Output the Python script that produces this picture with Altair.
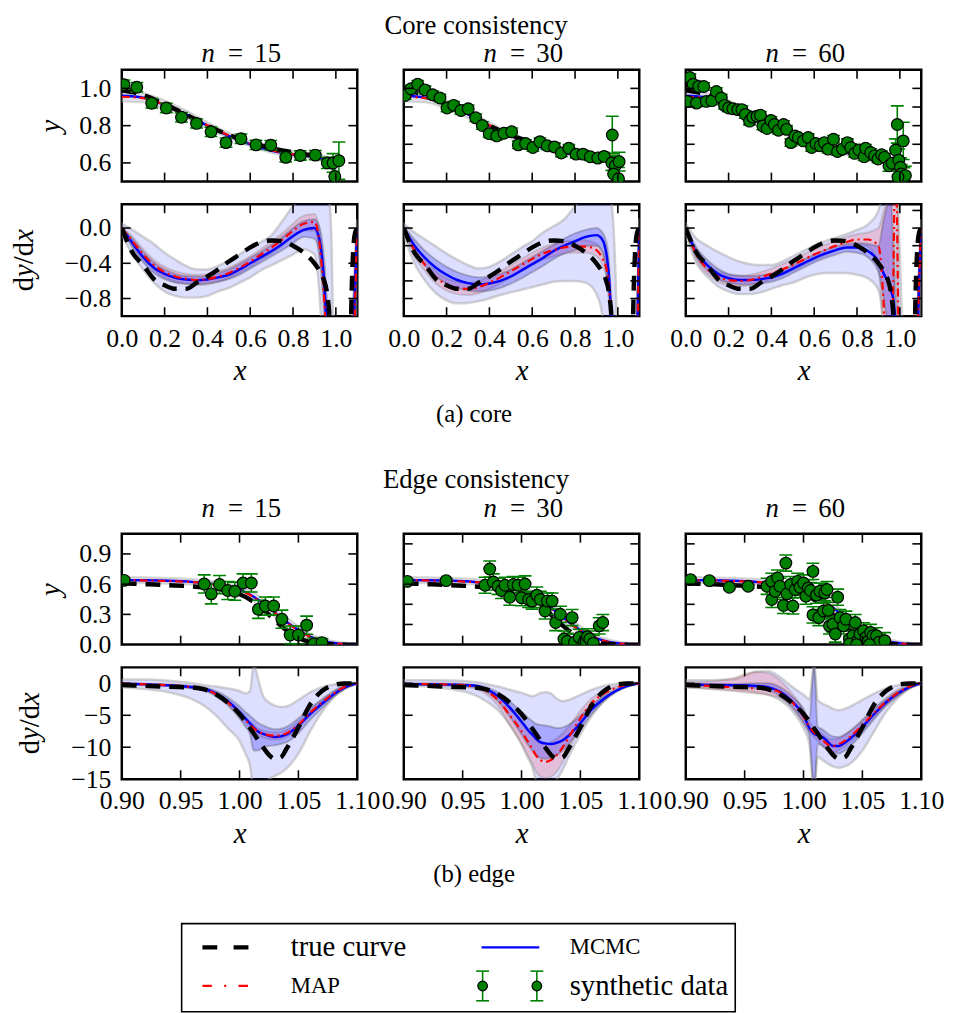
import altair as alt
import pandas as pd

FONT = "Liberation Serif"
GREEN = "#008000"

# ---------------- text ----------------
TITLE_CORE = "Core consistency"
TITLE_EDGE = "Edge consistency"
CAPTION_CORE = "(a) core"
CAPTION_EDGE = "(b) edge"
N_VALUES = [15, 30, 60]
LEGEND_LABELS = ["true curve", "MCMC", "MAP", "synthetic data"]
DYDX_PARTS = [("d", "normal", 0.5), ("y", "italic", 0.444), ("/", "normal", 0.278), ("d", "normal", 0.5),
              ("x", "italic", 0.444)]

# ---------------- axes ----------------
CORE_X_DOMAIN = [0.0, 1.1]
CORE_Y_DOMAIN = [0.5, 1.1]
CORE_D_DOMAIN = [-1.0, 0.27]
EDGE_X_DOMAIN = [0.9, 1.1]
EDGE_Y_DOMAIN = [0.0, 1.1]
EDGE_D_DOMAIN = [-15.0, 2.5]

CORE_X_LABELS = [0.0, 0.2, 0.4, 0.6, 0.8, 1.0]
CORE_X_INNER = [0.2, 0.4, 0.6, 0.8, 1.0]
EDGE_X_LABELS = [0.90, 0.95, 1.00, 1.05, 1.10]
EDGE_X_INNER = [0.95, 1.00, 1.05]
CORE_Y_LABELS = [0.6, 0.8, 1.0]
CORE_Y_TICKS = {15: [0.6, 0.8, 1.0], 30: [0.6, 0.7, 0.8, 0.9, 1.0], 60: [0.6, 0.7, 0.8, 0.9, 1.0]}
CORE_D_LABELS = [0.0, -0.4, -0.8]
CORE_D_TICKS = {15: [0.0, -0.4, -0.8], 30: [0.2, 0.0, -0.2, -0.4, -0.6, -0.8], 60: [0.2, 0.0, -0.2, -0.4, -0.6, -0.8]}
EDGE_Y_LABELS = [0.0, 0.3, 0.6, 0.9]
EDGE_Y_TICKS = {15: [0.3, 0.6, 0.9], 30: [0.2, 0.4, 0.6, 0.8, 1.0], 60: [0.2, 0.4, 0.6, 0.8, 1.0]}
EDGE_D_LABELS = [0, -5, -10, -15]
EDGE_D_TICKS = [0, -5, -10]

# ---------------- core experiment: y(x) ----------------
CORE_TRUE_Y_X = [0, 0.1, 0.2, 0.3, 0.4, 0.5, 0.6, 0.7, 0.8, 0.9, 0.95, 0.97, 0.98, 0.99, 1.0, 1.02, 1.05, 1.1]
CORE_TRUE_Y = [0.99, 0.965, 0.915, 0.86, 0.80, 0.75, 0.71, 0.68, 0.657, 0.635, 0.615, 0.60, 0.585, 0.565, 0.53, 0.42, 0.2, 0.0]
CORE_FIT_Y_X = [0, 0.1, 0.2, 0.3, 0.4, 0.5, 0.6, 0.7, 0.8, 0.9, 0.95, 0.97, 0.98, 0.99, 1.0, 1.02, 1.05, 1.1]
CORE_MCMC_Y = [0.96, 0.95, 0.91, 0.86, 0.80, 0.745, 0.70, 0.665, 0.645, 0.632, 0.618, 0.60, 0.585, 0.56, 0.52, 0.42, 0.2, 0.0]
CORE_MAP_Y = [0.955, 0.948, 0.912, 0.862, 0.802, 0.748, 0.703, 0.668, 0.646, 0.634, 0.62, 0.603, 0.588, 0.563, 0.525, 0.42, 0.2, 0.0]
CORE_BAND_Y_LO = [0.93, 0.925, 0.89, 0.84, 0.785, 0.732, 0.688, 0.653, 0.633, 0.618, 0.598, 0.575, 0.555, 0.525, 0.48, 0.36, 0.15, 0.0]
CORE_BAND_Y_HI = [0.99, 0.975, 0.935, 0.882, 0.818, 0.762, 0.715, 0.68, 0.66, 0.648, 0.638, 0.625, 0.612, 0.595, 0.565, 0.48, 0.26, 0.02]

CORE_PTS = {
    15: dict(
        x=[0.01, 0.07, 0.14, 0.208, 0.279, 0.349, 0.417, 0.487, 0.557, 0.627, 0.696, 0.766, 0.834, 0.904,
           0.96, 0.987, 1.014, 0.995],
        y=[1.02, 1.006, 0.92, 0.895, 0.845, 0.812, 0.767, 0.709, 0.73, 0.697, 0.695, 0.63, 0.64, 0.642,
           0.60, 0.60, 0.612, 0.527],
        e=[0.025, 0.025, 0.025, 0.025, 0.025, 0.025, 0.025, 0.025, 0.025, 0.025, 0.025, 0.025, 0.025, 0.025,
           0.03, 0.05, 0.10, 0.08]),
    30: dict(
        x=[0.006, 0.034, 0.065, 0.099, 0.135, 0.169, 0.202, 0.233, 0.267, 0.301, 0.336, 0.367, 0.399, 0.434,
           0.468, 0.504, 0.535, 0.569, 0.603, 0.636, 0.670, 0.704, 0.736, 0.771, 0.805, 0.837, 0.871, 0.906,
           0.936, 0.974, 0.972, 0.988, 1.006, 0.980, 1.003],
        y=[0.962, 0.998, 1.022, 0.992, 0.966, 0.948, 0.895, 0.909, 0.881, 0.891, 0.842, 0.801, 0.757, 0.745,
           0.759, 0.767, 0.697, 0.704, 0.683, 0.714, 0.692, 0.686, 0.653, 0.679, 0.647, 0.647, 0.633, 0.626,
           0.635, 0.750, 0.600, 0.585, 0.607, 0.541, 0.515],
        e=[0.02, 0.02, 0.02, 0.02, 0.02, 0.02, 0.02, 0.02, 0.02, 0.02, 0.02, 0.02, 0.02, 0.02,
           0.02, 0.02, 0.02, 0.02, 0.02, 0.02, 0.02, 0.02, 0.02, 0.02, 0.02, 0.02, 0.02, 0.02,
           0.02, 0.10, 0.04, 0.05, 0.05, 0.06, 0.06]),
    60: dict(
        x=[0.019, 0.034, 0.060, 0.084, 0.008, 0.050, 0.096, 0.122, 0.143, 0.166, 0.181, 0.200, 0.220, 0.243,
           0.262, 0.278, 0.298, 0.313, 0.333, 0.349, 0.360, 0.380, 0.398, 0.414, 0.433, 0.457, 0.471, 0.491,
           0.510, 0.526, 0.549, 0.572, 0.588, 0.608, 0.628, 0.647, 0.665, 0.690, 0.709, 0.732, 0.755, 0.771,
           0.789, 0.809, 0.833, 0.840, 0.864, 0.882, 0.898, 0.915, 0.929, 0.949, 0.964, 0.988, 1.016, 0.980,
           0.995, 1.003, 1.006, 1.019, 1.026, 0.991],
        y=[1.058, 1.022, 1.010, 1.010, 0.930, 0.921, 0.930, 0.934, 0.983, 0.948, 0.909, 0.895, 0.891, 0.886,
           0.886, 0.860, 0.824, 0.845, 0.851, 0.856, 0.798, 0.785, 0.828, 0.806, 0.775, 0.806, 0.780, 0.709,
           0.745, 0.736, 0.718, 0.736, 0.683, 0.704, 0.692, 0.709, 0.674, 0.727, 0.661, 0.674, 0.709, 0.683,
           0.651, 0.669, 0.633, 0.679, 0.656, 0.638, 0.621, 0.644, 0.630, 0.585, 0.598, 0.806, 0.718, 0.669,
           0.615, 0.577, 0.541, 0.524, 0.532, 0.524],
        e=[0.02, 0.02, 0.02, 0.02, 0.02, 0.02, 0.02, 0.02, 0.02, 0.02, 0.02, 0.02, 0.02, 0.02,
           0.02, 0.02, 0.02, 0.02, 0.02, 0.02, 0.02, 0.02, 0.02, 0.02, 0.02, 0.02, 0.02, 0.02,
           0.02, 0.02, 0.02, 0.02, 0.02, 0.02, 0.02, 0.02, 0.02, 0.02, 0.02, 0.02, 0.02, 0.02,
           0.02, 0.02, 0.02, 0.02, 0.02, 0.02, 0.02, 0.02, 0.02, 0.03, 0.03, 0.10, 0.10, 0.06,
           0.06, 0.05, 0.05, 0.05, 0.05, 0.05]),
}

# ---------------- core experiment: dy/dx ----------------
CORE_TRUE_D_X = [0, 0.05, 0.1, 0.15, 0.2, 0.25, 0.3, 0.35, 0.4, 0.45, 0.5, 0.55, 0.6, 0.65, 0.7, 0.75, 0.8,
                 0.85, 0.9, 0.92, 0.94, 0.96, 0.97, 0.98, 0.99, 1.0, 1.02, 1.04, 1.06, 1.07, 1.08, 1.09, 1.1]
CORE_TRUE_D = [0.0, -0.28, -0.42, -0.58, -0.65, -0.69, -0.69, -0.62, -0.55, -0.47, -0.38, -0.30, -0.22,
               -0.16, -0.14, -0.15, -0.20, -0.28, -0.40, -0.47, -0.56, -0.76, -1.0, -1.6, -2.8, -4.8, -10.0,
               -10.2, -3.5, -1.2, -0.3, -0.05, 0.0]

CORE_GRID = [0.0, 0.05, 0.1, 0.15, 0.2, 0.25, 0.3, 0.35, 0.4, 0.45, 0.5, 0.55, 0.6, 0.65, 0.7, 0.75, 0.8,
             0.85, 0.9, 0.925, 0.95, 0.96, 0.97, 0.98, 0.99, 1.0, 1.025, 1.05, 1.075, 1.09, 1.1]

CORE_D = {
    15: dict(
        mcmc=[0.0, -0.17, -0.33, -0.45, -0.52, -0.565, -0.585, -0.593, -0.585, -0.56, -0.53, -0.47, -0.40, -0.33, -0.26, -0.18, -0.09, -0.02, 0.0, -0.15, -0.8, -1.3, -1.8, -2.2, -2.6, -2.9, -3.4, -3.2, -2.0, -0.6, 0.0],
        map=[0.0, -0.15, -0.30, -0.42, -0.50, -0.55, -0.575, -0.59, -0.58, -0.55, -0.51, -0.45, -0.38, -0.30, -0.22, -0.13, -0.03, 0.05, 0.07, -0.2, -1.0, -1.5, -2.0, -2.4, -2.8, -3.0, -3.4, -3.2, -2.2, -0.8, 0.0],
        out_hi=[0.05, -0.02, -0.10, -0.18, -0.28, -0.36, -0.43, -0.47, -0.47, -0.43, -0.37, -0.30, -0.22, -0.16, -0.08, 0.08, 0.25, 0.40, 0.5, 0.5, 0.45, 0.4, 0.3, -0.2, -1.5, -2.5, -3.0, -2.5, -1.2, -0.3, 0.1],
        out_lo=[-0.08, -0.30, -0.47, -0.62, -0.72, -0.77, -0.79, -0.79, -0.77, -0.72, -0.68, -0.62, -0.56, -0.48, -0.42, -0.36, -0.30, -0.24, -0.30, -0.8, -2.0, -2.8, -3.5, -4.2, -4.8, -5.0, -5.0, -5.0, -4.0, -2.0, -0.2],
        in_hi=[0.0, -0.12, -0.27, -0.39, -0.47, -0.52, -0.545, -0.55, -0.54, -0.51, -0.47, -0.41, -0.34, -0.27, -0.19, -0.10, 0.0, 0.08, 0.1, 0.0, -0.5, -0.9, -1.4, -1.8, -2.3, -2.6, -3.1, -3.0, -1.7, -0.4, 0.05],
        in_lo=[-0.02, -0.22, -0.39, -0.51, -0.58, -0.62, -0.635, -0.64, -0.63, -0.61, -0.58, -0.53, -0.46, -0.39, -0.32, -0.25, -0.17, -0.10, -0.12, -0.35, -1.1, -1.6, -2.1, -2.6, -2.9, -3.2, -3.7, -3.4, -2.3, -0.9, -0.05],
        pk_hi=[0.01, -0.10, -0.24, -0.36, -0.44, -0.49, -0.52, -0.53, -0.52, -0.49, -0.45, -0.39, -0.32, -0.24, -0.15, -0.06, 0.05, 0.14, 0.16, -0.05, -0.8, -1.3, -1.8, -2.2, -2.6, -2.9, -3.2, -3.0, -2.0, -0.6, 0.02],
        pk_lo=[-0.01, -0.2, -0.36, -0.48, -0.56, -0.61, -0.63, -0.645, -0.64, -0.61, -0.57, -0.51, -0.44, -0.36, -0.29, -0.2, -0.1, -0.03, -0.03, -0.35, -1.2, -1.7, -2.2, -2.6, -3.0, -3.2, -3.6, -3.4, -2.4, -1.0, -0.02]),
    30: dict(
        mcmc=[0.0, -0.2, -0.34, -0.45, -0.53, -0.59, -0.625, -0.64, -0.63, -0.60, -0.55, -0.48, -0.41, -0.34, -0.26, -0.20, -0.15, -0.10, -0.08, -0.12, -0.35, -0.6, -1.1, -1.8, -2.4, -2.8, -3.5, -3.0, -2.2, -1.3, 0.0],
        map=[0.0, -0.25, -0.42, -0.56, -0.64, -0.68, -0.69, -0.67, -0.62, -0.56, -0.49, -0.42, -0.35, -0.29, -0.25, -0.22, -0.21, -0.21, -0.25, -0.33, -0.5, -0.7, -1.1, -1.8, -2.4, -2.8, -3.5, -3.0, -2.2, -1.4, 0.0],
        out_hi=[0.05, -0.05, -0.13, -0.21, -0.29, -0.36, -0.42, -0.46, -0.44, -0.38, -0.30, -0.22, -0.15, -0.05, 0.02, 0.10, 0.25, 0.4, 0.5, 0.5, 0.5, 0.45, 0.3, 0.0, -0.6, -1.5, -2.5, -2.5, -1.8, -0.8, 0.1],
        out_lo=[-0.08, -0.4, -0.6, -0.74, -0.82, -0.855, -0.85, -0.83, -0.80, -0.76, -0.73, -0.70, -0.67, -0.64, -0.61, -0.60, -0.60, -0.62, -0.75, -0.95, -1.5, -1.9, -2.4, -3.0, -4.0, -5.0, -5.0, -5.0, -4.0, -2.5, -0.2],
        in_hi=[0.02, -0.13, -0.26, -0.36, -0.44, -0.50, -0.54, -0.56, -0.55, -0.52, -0.47, -0.40, -0.33, -0.26, -0.19, -0.12, -0.06, -0.02, 0.0, -0.04, -0.2, -0.45, -0.9, -1.5, -2.1, -2.5, -3.2, -2.8, -1.9, -1.0, 0.05],
        in_lo=[-0.02, -0.27, -0.43, -0.55, -0.63, -0.68, -0.71, -0.72, -0.71, -0.68, -0.63, -0.57, -0.50, -0.43, -0.35, -0.29, -0.25, -0.20, -0.2, -0.25, -0.6, -0.85, -1.4, -2.1, -2.7, -3.1, -3.8, -3.2, -2.5, -1.6, -0.05],
        pk_hi=[0.02, -0.18, -0.35, -0.49, -0.57, -0.61, -0.62, -0.6, -0.55, -0.49, -0.42, -0.35, -0.28, -0.22, -0.18, -0.15, -0.14, -0.14, -0.18, -0.26, -0.42, -0.6, -0.95, -1.6, -2.2, -2.6, -3.3, -2.8, -2.0, -1.1, 0.02],
        pk_lo=[-0.02, -0.32, -0.49, -0.63, -0.71, -0.75, -0.76, -0.74, -0.69, -0.63, -0.56, -0.49, -0.42, -0.36, -0.32, -0.29, -0.28, -0.28, -0.32, -0.4, -0.6, -0.8, -1.3, -2.0, -2.6, -3.0, -3.7, -3.2, -2.4, -1.7, -0.02]),
    60: dict(
        mcmc=[0.0, -0.28, -0.42, -0.52, -0.57, -0.59, -0.59, -0.58, -0.56, -0.52, -0.46, -0.40, -0.34, -0.29, -0.25, -0.22, -0.22, -0.26, -0.38, -0.52, -0.64, -0.72, -0.82, -1.1, -1.8, -2.5, -3.5, -3.0, -2.0, -0.6, 0.0],
        map=[0.0, -0.3, -0.46, -0.55, -0.59, -0.6, -0.59, -0.56, -0.52, -0.47, -0.42, -0.36, -0.30, -0.25, -0.20, -0.16, -0.13, -0.13, -0.2, -0.9, -2.5, -2.0, -0.5, 1.0, -0.5, -3.0, -3.5, -3.0, -2.0, -0.6, 0.0],
        out_hi=[0.05, -0.12, -0.2, -0.27, -0.33, -0.38, -0.41, -0.42, -0.42, -0.38, -0.32, -0.26, -0.20, -0.15, -0.11, -0.07, -0.02, 0.04, 0.2, 0.4, 0.5, 0.5, 0.5, 0.5, 0.3, -0.3, -2.0, -2.0, -1.5, -0.5, 0.1],
        out_lo=[-0.08, -0.4, -0.55, -0.66, -0.72, -0.75, -0.75, -0.73, -0.69, -0.65, -0.62, -0.57, -0.53, -0.51, -0.51, -0.51, -0.53, -0.57, -0.7, -1.2, -2.5, -3.0, -3.5, -4.0, -4.5, -5.0, -5.0, -5.0, -4.0, -2.0, -0.2],
        in_hi=[0.02, -0.22, -0.36, -0.46, -0.52, -0.54, -0.545, -0.535, -0.515, -0.48, -0.42, -0.36, -0.30, -0.25, -0.21, -0.18, -0.17, -0.18, -0.2, 0.1, 0.3, 0.3, -0.3, -0.8, -1.4, -2.2, -3.2, -2.7, -1.7, -0.4, 0.05],
        in_lo=[-0.02, -0.33, -0.48, -0.58, -0.62, -0.64, -0.64, -0.63, -0.61, -0.57, -0.51, -0.45, -0.39, -0.34, -0.30, -0.27, -0.28, -0.33, -0.5, -0.8, -1.2, -1.3, -1.4, -1.6, -2.2, -2.8, -3.8, -3.3, -2.3, -0.8, -0.05],
        pk_hi=[0.02, -0.24, -0.4, -0.49, -0.53, -0.54, -0.53, -0.5, -0.46, -0.41, -0.36, -0.30, -0.24, -0.19, -0.14, -0.10, -0.07, -0.05, 0.0, 0.2, 0.4, 0.5, 0.6, 1.5, 0.5, -2.5, -3.2, -2.7, -1.7, -0.4, 0.02],
        pk_lo=[-0.02, -0.36, -0.52, -0.61, -0.65, -0.66, -0.65, -0.62, -0.58, -0.53, -0.48, -0.42, -0.36, -0.31, -0.26, -0.22, -0.19, -0.21, -0.45, -1.4, -3.0, -2.8, -1.2, 0.0, -2.0, -3.5, -3.8, -3.3, -2.3, -0.8, -0.02]),
}

# ---------------- edge experiment: y(x) ----------------
EDGE_TRUE_Y_X = [0.9, 0.92, 0.94, 0.96, 0.97, 0.98, 0.99, 1.0, 1.01, 1.02, 1.03, 1.04, 1.05, 1.06, 1.07, 1.08, 1.09, 1.1]
EDGE_TRUE_Y = [0.61, 0.60, 0.59, 0.578, 0.568, 0.555, 0.535, 0.50, 0.44, 0.35, 0.24, 0.14, 0.065, 0.025, 0.008, 0.002, 0.0, 0.0]
EDGE_FIT_Y_X = [0.9, 0.92, 0.94, 0.96, 0.97, 0.98, 0.99, 1.0, 1.01, 1.02, 1.03, 1.04, 1.05, 1.06, 1.07, 1.08, 1.09, 1.1]
EDGE_MCMC_Y = [0.64, 0.638, 0.633, 0.622, 0.612, 0.598, 0.578, 0.545, 0.49, 0.41, 0.32, 0.225, 0.145, 0.08, 0.04, 0.015, 0.005, 0.0]
EDGE_MAP_Y = [0.638, 0.636, 0.631, 0.62, 0.61, 0.596, 0.575, 0.54, 0.485, 0.405, 0.315, 0.22, 0.14, 0.078, 0.038, 0.014, 0.004, 0.0]
EDGE_BAND_Y_LO = [0.61, 0.61, 0.605, 0.595, 0.585, 0.57, 0.545, 0.505, 0.445, 0.365, 0.275, 0.185, 0.11, 0.055, 0.02, 0.0, -0.01, -0.01]
EDGE_BAND_Y_HI = [0.67, 0.668, 0.662, 0.652, 0.642, 0.628, 0.61, 0.58, 0.53, 0.455, 0.365, 0.27, 0.185, 0.11, 0.065, 0.035, 0.02, 0.01]

EDGE_PTS = {
    15: dict(
        x=[0.902, 0.970, 0.976, 0.983, 0.990, 0.996, 1.003, 1.010, 1.016, 1.022, 1.029, 1.036, 1.043, 1.050,
           1.057, 1.063, 1.070],
        y=[0.638, 0.602, 0.504, 0.596, 0.537, 0.530, 0.612, 0.612, 0.350, 0.383, 0.383, 0.252, 0.095, 0.095,
           0.193, 0.006, 0.02],
        e=[0.02, 0.09, 0.10, 0.09, 0.09, 0.09, 0.09, 0.09, 0.09, 0.09, 0.09, 0.09, 0.09, 0.09, 0.09, 0.06, 0.04]),
    30: dict(
        x=[0.903, 0.936, 0.973, 0.969, 0.976, 0.980, 0.983, 0.986, 0.990, 0.993, 0.997, 1.003, 1.000, 1.006,
           1.009, 1.013, 1.016, 1.020, 1.022, 1.026, 1.029, 1.033, 1.036, 1.039, 1.043, 1.045, 1.049, 1.053,
           1.056, 1.058, 1.061, 1.066, 1.069],
        y=[0.628, 0.635, 0.750, 0.589, 0.622, 0.579, 0.537, 0.589, 0.471, 0.596, 0.589, 0.602, 0.465, 0.448,
           0.432, 0.491, 0.448, 0.334, 0.432, 0.432, 0.219, 0.301, 0.055, 0.033, 0.268, 0.023, 0.072, 0.023,
           0.078, 0.055, 0.013, 0.186, 0.219],
        e=[0.02, 0.02, 0.08, 0.08, 0.08, 0.08, 0.08, 0.08, 0.08, 0.08, 0.08, 0.08, 0.08, 0.08,
           0.08, 0.08, 0.08, 0.08, 0.08, 0.08, 0.08, 0.08, 0.08, 0.08, 0.08, 0.08, 0.08, 0.08,
           0.08, 0.08, 0.08, 0.08, 0.08]),
    60: dict(
        x=[0.904, 0.920, 0.937, 0.953, 0.969, 0.973, 0.978, 0.973, 0.976, 0.980, 0.985, 0.983, 0.986, 0.989,
           0.991, 0.993, 0.995, 0.997, 1.000, 1.002, 1.004, 1.006, 1.008, 1.011, 1.014, 1.018, 1.020, 1.029,
           1.008, 1.013, 1.017, 1.021, 1.022, 1.025, 1.027, 1.031, 1.034, 1.036, 1.039, 1.042, 1.044, 1.046,
           1.048, 1.051, 1.053, 1.055, 1.057, 1.059, 1.062, 1.064, 1.069, 1.039, 1.045, 1.056],
        y=[0.645, 0.635, 0.570, 0.579, 0.579, 0.628, 0.661, 0.448, 0.530, 0.579, 0.809, 0.389, 0.504, 0.596,
           0.383, 0.547, 0.628, 0.570, 0.612, 0.481, 0.563, 0.537, 0.727, 0.491, 0.530, 0.514, 0.547, 0.471,
           0.295, 0.268, 0.334, 0.340, 0.186, 0.203, 0.105, 0.268, 0.186, 0.252, 0.055, 0.088, 0.219, 0.039,
           0.105, 0.137, 0.072, 0.033, 0.121, 0.088, 0.088, 0.023, 0.039, 0.006, 0.0, 0.0],
        e=[0.02, 0.02, 0.02, 0.02, 0.08, 0.08, 0.08, 0.08, 0.08, 0.08, 0.08, 0.08, 0.08, 0.08,
           0.08, 0.08, 0.08, 0.08, 0.08, 0.08, 0.08, 0.08, 0.08, 0.08, 0.08, 0.08, 0.08, 0.08,
           0.08, 0.08, 0.08, 0.08, 0.08, 0.08, 0.08, 0.08, 0.08, 0.08, 0.08, 0.08, 0.08, 0.08,
           0.08, 0.08, 0.08, 0.08, 0.08, 0.08, 0.08, 0.08, 0.08, 0.08, 0.08, 0.08]),
}

# ---------------- edge experiment: dy/dx ----------------
EDGE_TRUE_D_X = [0.9, 0.92, 0.94, 0.96, 0.97, 0.98, 0.99, 1.0, 1.01, 1.02, 1.025, 1.03, 1.035, 1.04, 1.05, 1.06,
                 1.07, 1.08, 1.09, 1.1]
EDGE_TRUE_D = [-0.25, -0.4, -0.55, -0.65, -0.95, -1.7, -3.0, -4.8, -7.3, -10.0, -11.2, -11.8, -11.6, -10.2,
               -6.9, -3.3, -1.2, -0.25, -0.02, 0.0]

EDGE_GRID = [0.9, 0.92, 0.94, 0.96, 0.97, 0.98, 0.99, 1.0, 1.005, 1.009, 1.012, 1.016, 1.02, 1.025, 1.03,
             1.035, 1.04, 1.05, 1.06, 1.07, 1.08, 1.09, 1.1]

EDGE_D = {
    15: dict(
        mcmc=[-0.05, -0.15, -0.3, -0.6, -0.85, -1.6, -2.8, -4.5, -5.5, -6.3, -6.9, -7.6, -7.9, -8.2, -8.4, -8.3, -8.0, -6.6, -4.8, -3.2, -1.7, -0.6, 0.0],
        map=[-0.05, -0.15, -0.3, -0.6, -0.9, -1.7, -3.0, -4.7, -5.7, -6.5, -7.0, -7.6, -7.9, -8.1, -8.2, -8.1, -7.8, -6.5, -4.6, -3.0, -1.6, -0.5, 0.0],
        out_hi=[0.6, 0.6, 0.4, 0.0, -0.3, -0.5, -0.8, -1.2, -1.6, -1.2, 3.0, 0.5, -2.0, -3.0, -3.5, -3.7, -3.6, -2.6, -1.4, -0.6, -0.2, 0.1, 0.1],
        out_lo=[-0.6, -0.9, -1.4, -2.5, -3.5, -5.0, -7.0, -9.0, -11.0, -13.0, -17.0, -17.0, -16.0, -15.0, -14.5, -14.0, -13.3, -11.0, -7.5, -4.5, -2.2, -0.8, -0.1],
        in_hi=[0.0, -0.1, -0.2, -0.45, -0.65, -1.2, -2.2, -3.6, -4.5, -5.1, -5.6, -6.2, -6.6, -7.0, -7.2, -7.1, -6.8, -5.5, -3.9, -2.5, -1.2, -0.3, 0.0],
        in_lo=[-0.1, -0.2, -0.4, -0.8, -1.1, -2.0, -3.4, -5.5, -6.8, -8.0, -10.5, -10.5, -10.0, -9.8, -9.7, -9.5, -9.2, -7.8, -5.7, -3.9, -2.1, -0.8, 0.0],
        pk_hi=[0.05, -0.05, -0.2, -0.45, -0.7, -1.4, -2.6, -4.2, -5.2, -6.0, -6.5, -7.1, -7.4, -7.6, -7.7, -7.6, -7.3, -6.0, -4.2, -2.6, -1.3, -0.3, 0.02],
        pk_lo=[-0.15, -0.25, -0.4, -0.75, -1.1, -2.0, -3.4, -5.2, -6.2, -7.0, -7.6, -8.2, -8.5, -8.7, -8.8, -8.7, -8.4, -7.0, -5.0, -3.4, -1.9, -0.7, -0.02]),
    30: dict(
        mcmc=[-0.1, -0.15, -0.2, -0.35, -0.9, -2.0, -3.8, -6.0, -7.2, -8.0, -8.6, -9.2, -9.4, -9.5, -9.3, -8.9, -8.2, -6.2, -4.0, -2.4, -1.2, -0.4, 0.0],
        map=[-0.1, -0.12, -0.2, -0.5, -1.2, -2.6, -5.0, -7.5, -9.0, -10.2, -11.2, -12.0, -12.3, -12.0, -11.2, -10.0, -8.5, -5.5, -3.0, -1.6, -0.7, -0.2, 0.0],
        out_hi=[0.5, 0.5, 0.45, 0.2, -0.1, -0.5, -1.0, -1.5, -1.8, -2.0, -1.9, -1.5, -1.4, -1.6, -2.4, -2.8, -2.6, -1.8, -1.0, -0.4, -0.1, 0.1, 0.1],
        out_lo=[-0.3, -0.5, -0.9, -1.8, -2.8, -4.2, -6.5, -9.5, -11.5, -13.0, -15.0, -16.0, -16.0, -16.0, -15.0, -13.5, -11.5, -8.0, -5.0, -2.8, -1.3, -0.5, -0.1],
        in_hi=[-0.05, -0.05, -0.1, -0.25, -0.6, -1.4, -2.8, -4.5, -5.3, -5.9, -6.3, -6.5, -6.6, -6.8, -7.0, -6.9, -6.5, -5.0, -3.3, -2.0, -1.0, -0.3, 0.0],
        in_lo=[-0.15, -0.25, -0.35, -0.6, -1.3, -2.8, -5.2, -8.0, -9.5, -10.5, -11.2, -11.7, -11.8, -11.7, -11.2, -10.5, -9.5, -7.2, -4.7, -2.8, -1.4, -0.5, 0.0],
        pk_hi=[0.0, 0.0, 0.0, -0.3, -0.8, -1.8, -3.5, -5.8, -7.0, -8.0, -8.8, -9.4, -9.5, -9.2, -8.6, -7.8, -6.8, -4.3, -2.3, -1.2, -0.5, -0.1, 0.0],
        pk_lo=[-0.2, -0.25, -0.4, -0.8, -1.7, -3.5, -6.5, -9.5, -11.2, -12.5, -13.7, -14.6, -14.8, -14.6, -13.8, -12.3, -10.5, -6.8, -3.8, -2.0, -0.9, -0.3, 0.0]),
    60: dict(
        mcmc=[-0.15, -0.25, -0.3, -0.4, -0.6, -1.3, -2.8, -5.0, -7.0, -7.9, -8.1, -8.4, -9.0, -9.8, -9.8, -9.3, -8.6, -6.8, -4.8, -3.0, -1.6, -0.6, 0.0],
        map=[-0.2, -0.4, -0.6, -0.8, -0.9, -1.4, -2.9, -5.2, -6.8, -7.7, -8.2, -8.8, -9.5, -9.8, -9.5, -9.0, -8.3, -6.5, -4.6, -2.9, -1.5, -0.5, 0.0],
        out_hi=[0.5, 0.5, 0.6, 1.8, 1.9, 1.0, -0.5, -1.8, -2.5, 3.0, -2.6, -3.2, -3.5, -4.0, -4.2, -4.0, -3.6, -2.6, -1.6, -0.8, -0.3, 0.0, 0.1],
        out_lo=[-0.6, -0.8, -1.0, -1.4, -1.8, -2.6, -4.2, -7.0, -9.5, -17.0, -11.5, -12.0, -12.5, -13.0, -13.2, -13.0, -12.5, -10.5, -7.5, -4.5, -2.3, -0.8, -0.1],
        in_hi=[-0.05, -0.1, -0.1, 0.0, 0.0, -0.6, -2.0, -4.0, -5.8, 3.0, -6.8, -7.2, -7.8, -8.3, -8.4, -8.0, -7.4, -5.8, -4.0, -2.5, -1.2, -0.4, 0.0],
        in_lo=[-0.3, -0.45, -0.5, -0.8, -1.1, -2.0, -3.6, -6.2, -8.2, -17.0, -9.5, -9.8, -10.3, -11.0, -11.0, -10.5, -9.8, -7.8, -5.6, -3.5, -2.0, -0.8, 0.0],
        pk_hi=[0.2, 0.3, 0.8, 1.8, 1.6, 0.5, -1.5, -4.2, -6.0, -7.0, -7.4, -7.9, -8.5, -8.8, -8.6, -8.1, -7.4, -5.7, -3.9, -2.3, -1.0, -0.3, 0.0],
        pk_lo=[-0.6, -0.9, -1.2, -1.6, -1.8, -2.3, -3.8, -6.2, -7.6, -8.4, -9.0, -9.7, -10.5, -10.8, -10.4, -9.9, -9.2, -7.3, -5.3, -3.5, -2.0, -0.7, 0.0]),
}

# ---------------- styles / layout ----------------
W = 238
GAP = 47
ROW_GAP = 23
CORE_H = 113
EDGE_HY = 112
EDGE_HD = 113
TOP_H = 31
MID_H = 174
BOT_H = 212
TICK = 9
LABEL_FS = 26
AXTITLE_FS = 29
TITLE_FS = 27
N_FS = 27

OUTER = dict(fill="#0000ff", fillOpacity=0.13, stroke="#a8a8a8", strokeOpacity=0.5, strokeWidth=2.5)
PINK = dict(fill="#ff0000", fillOpacity=0.14, stroke="#808080", strokeOpacity=0.3, strokeWidth=2)
INNER = dict(fill="#0000ff", fillOpacity=0.24, stroke="#555555", strokeOpacity=0.35, strokeWidth=2)
YBAND = dict(fill="#8080a8", fillOpacity=0.25, stroke="#c0c0c0", strokeOpacity=0.6, strokeWidth=2)
TRUE_STYLE = dict(color="black", strokeWidth=4.5, strokeDash=[15, 9])
MAP_STYLE = dict(color="#ff0000", strokeWidth=2.2, strokeDash=[8, 4, 2, 4])
MCMC_STYLE = dict(color="#0000ff", strokeWidth=2.5)


def axis_x(values, fmt, pad, title_y):
    return alt.Axis(values=values, format=fmt, title="x", grid=False, domain=False, ticks=False, tickSize=0,
                    labelFont=FONT, labelFontSize=LABEL_FS, labelColor="black", labelPadding=pad,
                    labelBaseline="middle", labelFlush=False, labelOverlap=False, labelBound=False,
                    titleFont=FONT, titleFontSize=AXTITLE_FS, titleFontStyle="italic", titleFontWeight="normal",
                    titleColor="black", titleX=W / 2, titleY=title_y, titleAlign="center", titleBaseline="middle")


def axis_y(values, fmt, title, tx, h):
    return alt.Axis(values=values, format=fmt, title=title, grid=False, domain=False, ticks=False, tickSize=0,
                    labelFont=FONT, labelFontSize=LABEL_FS, labelColor="black", labelPadding=11,
                    labelFlush=False, labelOverlap=False,
                    titleFont=FONT, titleFontSize=AXTITLE_FS, titleFontStyle="italic", titleFontWeight="normal",
                    titleColor="black", titleX=tx, titleY=h / 2, titleAngle=270, titleAlign="center",
                    titleBaseline="middle")


def text_layer(label, x, y, size, style="normal", align="center", baseline="alphabetic", angle=0):
    return (alt.Chart(pd.DataFrame({"label": [label]}))
            .mark_text(font=FONT, fontSize=size, fontStyle=style, align=align, baseline=baseline, color="black",
                       angle=angle)
            .encode(text="label:N", x=alt.value(x), y=alt.value(y)))


def dydx_title(xc, h):
    total = sum(p[2] for p in DYDX_PARTS) * AXTITLE_FS
    y = h / 2 + total / 2
    out = []
    for txt, style, w in DYDX_PARTS:
        out.append(text_layer(txt, xc, y, AXTITLE_FS, style, "left", "middle", 270))
        y -= w * AXTITLE_FS
    return out


def panel(xdom, ydom, h, xaxis, yaxis, xt, yt, bands=(), lines=(), points=None, extra=()):
    def X(f):
        return alt.X(f + ":Q", scale=alt.Scale(domain=xdom, nice=False, zero=False), axis=xaxis)

    def Y(f):
        return alt.Y(f + ":Q", scale=alt.Scale(domain=ydom, nice=False, zero=False), axis=yaxis)

    layers = []
    for (xs, lo, hi), style in bands:
        n = min(len(xs), len(lo), len(hi))
        df = pd.DataFrame({"x": xs[:n], "lo": lo[:n], "hi": hi[:n]})
        layers.append(alt.Chart(df).mark_area(clip=True, interpolate="monotone", **style)
                      .encode(x=X("x"), y=Y("lo"), y2=alt.Y2("hi:Q")))
    for (xs, ys), style in lines:
        n = min(len(xs), len(ys))
        df = pd.DataFrame({"x": xs[:n], "y": ys[:n]})
        layers.append(alt.Chart(df).mark_line(clip=True, interpolate="monotone", **style)
                      .encode(x=X("x"), y=Y("y")))
    if points is not None:
        n = min(len(points["x"]), len(points["y"]), len(points["e"]))
        df = pd.DataFrame({"x": points["x"][:n], "y": points["y"][:n],
                           "lo": [a - b for a, b in zip(points["y"][:n], points["e"][:n])],
                           "hi": [a + b for a, b in zip(points["y"][:n], points["e"][:n])]})
        layers.append(alt.Chart(df).mark_rule(clip=True, color=GREEN, strokeWidth=1.6)
                      .encode(x=X("x"), y=Y("lo"), y2=alt.Y2("hi:Q")))
        for f in ["lo", "hi"]:
            layers.append(alt.Chart(df).mark_tick(clip=True, orient="horizontal", size=13, thickness=1.6,
                                                  color=GREEN, opacity=1)
                          .encode(x=X("x"), y=Y(f)))
        layers.append(alt.Chart(df).mark_circle(clip=True, size=140, fill=GREEN, stroke="black",
                                                strokeWidth=1.2, opacity=1)
                      .encode(x=X("x"), y=Y("y")))
    dx = pd.DataFrame({"t": xt})
    dy = pd.DataFrame({"t": yt})
    layers.append(alt.Chart(dx).mark_rule(color="black", strokeWidth=1.6)
                  .encode(x=X("t"), y=alt.value(h), y2=alt.value(h - TICK)))
    layers.append(alt.Chart(dx).mark_rule(color="black", strokeWidth=1.6)
                  .encode(x=X("t"), y=alt.value(0), y2=alt.value(TICK)))
    layers.append(alt.Chart(dy).mark_rule(color="black", strokeWidth=1.6)
                  .encode(y=Y("t"), x=alt.value(0), x2=alt.value(TICK)))
    layers.append(alt.Chart(dy).mark_rule(color="black", strokeWidth=1.6)
                  .encode(y=Y("t"), x=alt.value(W), x2=alt.value(W - TICK)))
    layers.extend(extra)
    return alt.layer(*layers).properties(width=W, height=h)


def n_labels(y):
    out = []
    for i, n in enumerate(N_VALUES):
        cx = W / 2 + i * (W + GAP)
        out.append(text_layer("n", cx - 25, y, N_FS, "italic", "right"))
        out.append(text_layer("=", cx - 4, y, N_FS, "normal", "center"))
        out.append(text_layer(str(n), cx + 15, y, N_FS, "normal", "left"))
    return out


NOVIEW = alt.ViewBackground(stroke="transparent")
ONE = pd.DataFrame({"k": [0]})


def blank(h):
    return alt.layer(alt.Chart(ONE).mark_circle(opacity=0).encode(x=alt.value(0), y=alt.value(0))).properties(
        width=W, height=h, view=NOVIEW)


# ---------------- panels ----------------
core_y, core_d, edge_y, edge_d = [], [], [], []
for i, n in enumerate(N_VALUES):
    first = i == 0
    d = CORE_D[n]
    core_y.append(panel(CORE_X_DOMAIN, CORE_Y_DOMAIN, CORE_H, None,
                        axis_y(CORE_Y_LABELS, ".1f", "y", -71.5, CORE_H) if first else None,
                        CORE_X_INNER, CORE_Y_TICKS[n],
                        bands=[((CORE_FIT_Y_X, CORE_BAND_Y_LO, CORE_BAND_Y_HI), YBAND)],
                        lines=[((CORE_FIT_Y_X, CORE_MCMC_Y), MCMC_STYLE), ((CORE_FIT_Y_X, CORE_MAP_Y), MAP_STYLE),
                               ((CORE_TRUE_Y_X, CORE_TRUE_Y), TRUE_STYLE)],
                        points=CORE_PTS[n]))
    core_d.append(panel(CORE_X_DOMAIN, CORE_D_DOMAIN, CORE_H, axis_x(CORE_X_LABELS, ".1f", 23, 55),
                        axis_y(CORE_D_LABELS, ".1f", "", -99, CORE_H) if first else None,
                        CORE_X_INNER, CORE_D_TICKS[n],
                        bands=[((CORE_GRID, d["out_lo"], d["out_hi"]), OUTER),
                               ((CORE_GRID, d["pk_lo"], d["pk_hi"]), PINK),
                               ((CORE_GRID, d["in_lo"], d["in_hi"]), INNER)],
                        lines=[((CORE_GRID, d["mcmc"]), MCMC_STYLE), ((CORE_GRID, d["map"]), MAP_STYLE),
                               ((CORE_TRUE_D_X, CORE_TRUE_D), TRUE_STYLE)],
                        extra=dydx_title(-99, CORE_H) if first else ()))
    e = EDGE_D[n]
    edge_y.append(panel(EDGE_X_DOMAIN, EDGE_Y_DOMAIN, EDGE_HY, None,
                        axis_y(EDGE_Y_LABELS, ".1f", "y", -72, EDGE_HY) if first else None,
                        EDGE_X_INNER, EDGE_Y_TICKS[n],
                        bands=[((EDGE_FIT_Y_X, EDGE_BAND_Y_LO, EDGE_BAND_Y_HI), YBAND)],
                        lines=[((EDGE_FIT_Y_X, EDGE_MCMC_Y), MCMC_STYLE), ((EDGE_FIT_Y_X, EDGE_MAP_Y), MAP_STYLE),
                               ((EDGE_TRUE_Y_X, EDGE_TRUE_Y), TRUE_STYLE)],
                        points=EDGE_PTS[n]))
    edge_d.append(panel(EDGE_X_DOMAIN, EDGE_D_DOMAIN, EDGE_HD, axis_x(EDGE_X_LABELS, ".2f", 22, 55),
                        axis_y(EDGE_D_LABELS, "d", "", -93, EDGE_HD) if first else None,
                        EDGE_X_INNER, EDGE_D_TICKS,
                        bands=[((EDGE_GRID, e["out_lo"], e["out_hi"]), OUTER),
                               ((EDGE_GRID, e["pk_lo"], e["pk_hi"]), PINK),
                               ((EDGE_GRID, e["in_lo"], e["in_hi"]), INNER)],
                        lines=[((EDGE_GRID, e["mcmc"]), MCMC_STYLE), ((EDGE_GRID, e["map"]), MAP_STYLE),
                               ((EDGE_TRUE_D_X, EDGE_TRUE_D), TRUE_STYLE)],
                        extra=dydx_title(-93, EDGE_HD) if first else ()))

# ---------------- text rows ----------------
TITLE_BASE = 18
top_text = alt.layer(text_layer(TITLE_CORE, 358, TITLE_BASE, TITLE_FS), *n_labels(46)).properties(
    width=W, height=TOP_H, view=NOVIEW)
mid_text = alt.layer(text_layer(CAPTION_CORE, 356, 76, 25, baseline="middle"),
                     text_layer(TITLE_EDGE, 358, 151, TITLE_FS), *n_labels(180)).properties(
    width=W, height=MID_H, view=NOVIEW)

# ---------------- bottom: caption + legend ----------------
LX0, LX1, LY0, LY1 = 60.5, 620, 123, 212
R1, R2 = 147, 186
legend_layers = [
    text_layer(CAPTION_EDGE, 356, 73, 25, baseline="middle"),
    alt.Chart(ONE).mark_rect(fill="white", stroke="black", strokeWidth=1.6)
    .encode(x=alt.value(LX0), x2=alt.value(LX1), y=alt.value(LY0), y2=alt.value(LY1)),
    alt.Chart(ONE).mark_rule(color="black", strokeWidth=4.5, strokeDash=[15, 16.5])
    .encode(x=alt.value(81.5), x2=alt.value(129), y=alt.value(R1)),
    alt.Chart(ONE).mark_rule(color="#ff0000", strokeWidth=2.2, strokeDash=[9.5, 12.5, 2, 12.5])
    .encode(x=alt.value(81.5), x2=alt.value(129), y=alt.value(R2)),
    alt.Chart(ONE).mark_rule(color="#0000ff", strokeWidth=2.5)
    .encode(x=alt.value(363.6), x2=alt.value(422), y=alt.value(R1)),
    text_layer(LEGEND_LABELS[0], 170.7, R1, 29, baseline="middle", align="left"),
    text_layer(LEGEND_LABELS[1], 452.7, R1, 23, baseline="middle", align="left"),
    text_layer(LEGEND_LABELS[2], 170.7, R2, 23, baseline="middle", align="left"),
    text_layer(LEGEND_LABELS[3], 452.7, R2, 29, baseline="middle", align="left"),
]
for mx in [364.7, 419.5]:
    legend_layers.append(alt.Chart(ONE).mark_rule(color=GREEN, strokeWidth=1.6)
                         .encode(x=alt.value(mx), y=alt.value(R2 - 15), y2=alt.value(R2 + 15)))
    for cy in [R2 - 15, R2 + 15]:
        legend_layers.append(alt.Chart(ONE).mark_rule(color=GREEN, strokeWidth=1.6)
                             .encode(x=alt.value(mx - 6.5), x2=alt.value(mx + 6.5), y=alt.value(cy)))
    legend_layers.append(alt.Chart(ONE).mark_circle(size=95, fill=GREEN, stroke="black", strokeWidth=1.2,
                                                    opacity=1)
                         .encode(x=alt.value(mx), y=alt.value(R2)))
bottom = alt.layer(*legend_layers).properties(width=W, height=BOT_H, view=NOVIEW)

cells = ([top_text, blank(TOP_H), blank(TOP_H)] + core_y + core_d +
         [mid_text, blank(MID_H), blank(MID_H)] + edge_y + edge_d +
         [bottom, blank(BOT_H), blank(BOT_H)])

chart = alt.concat(*cells, columns=3, spacing=alt.RowColnumber(row=ROW_GAP, column=GAP),
                   bounds="flush").properties(
    padding={"left": 0, "right": 0, "top": -3, "bottom": 0}
).configure_view(stroke="black", strokeWidth=2.5)

chart.save("out.html", embed_options={"renderer": "svg", "actions": False})
